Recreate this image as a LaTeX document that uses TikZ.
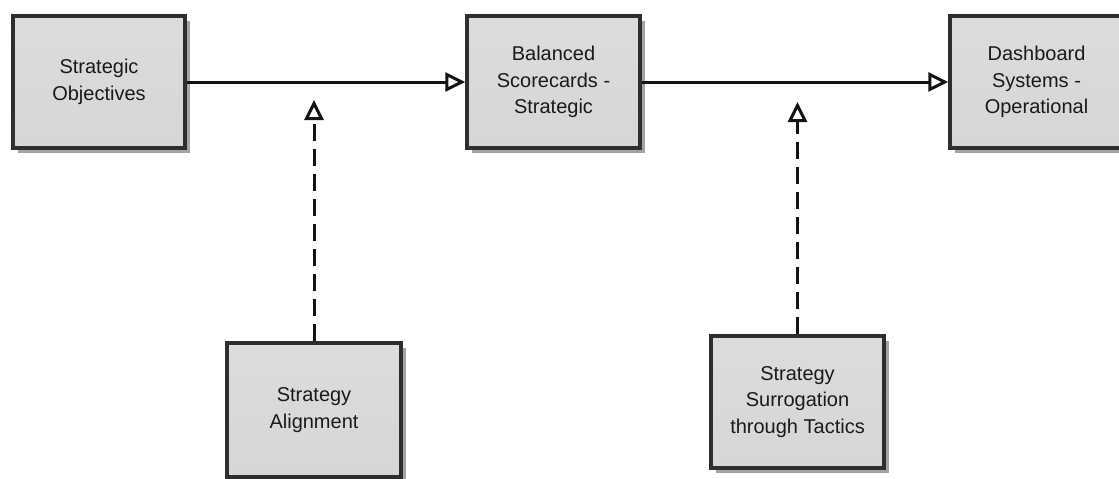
\documentclass[tikz,border=0pt]{standalone}
\usepackage{fontspec}
\setmainfont{Liberation Sans}
\usetikzlibrary{arrows.meta,shadows}
\definecolor{boxborder}{HTML}{2E2E2E}
\definecolor{boxtop}{HTML}{DCDCDC}
\definecolor{boxbot}{HTML}{D6D6D6}
\definecolor{shadowgray}{HTML}{A4A4A4}
\definecolor{textgray}{HTML}{1A1A1A}
\tikzset{
  box/.style={draw=boxborder, line width=3.5pt, top color=boxtop, bottom color=boxbot,
    minimum width=#1, minimum height=132pt, inner sep=0pt, align=center,
    text=textgray, font=\fontsize{20}{26.5}\selectfont,
    drop shadow={shadow xshift=5pt, shadow yshift=-5pt, fill=shadowgray, opacity=1}},
  box/.default=173pt,
  flow/.style={line width=3pt, draw=black!92,
    -{Triangle[length=20pt, width=19pt, fill=white, line width=3pt]}},
  dashflow/.style={flow, dash pattern=on 17pt off 8pt}
}
\begin{document}
\begin{tikzpicture}[x=1pt,y=-1pt]
\useasboundingbox (0,0) rectangle (1119,479);
\node[box=172pt] (so) at (99,82) {Strategic\\Objectives};
\node[box] (bs) at (553.5,82) {Balanced\\Scorecards -\\Strategic};
\node[box] (ds) at (1036.5,82) {Dashboard\\Systems -\\Operational};
\node[box=174pt, minimum height=134pt] (sa) at (314,410) {Strategy\\Alignment};
\node[box] (st) at (797.5,402) {Strategy\\Surrogation\\through Tactics};
\coordinate (t1) at (314,100);
\coordinate (t2) at (797.5,102);
\draw[flow] (so.east) -- (bs.west);
\draw[flow] (bs.east) -- (ds.west);
\draw[dashflow] (sa.north) -- (t1);
\draw[dashflow] (st.north) -- (t2);
\end{tikzpicture}
\end{document}
